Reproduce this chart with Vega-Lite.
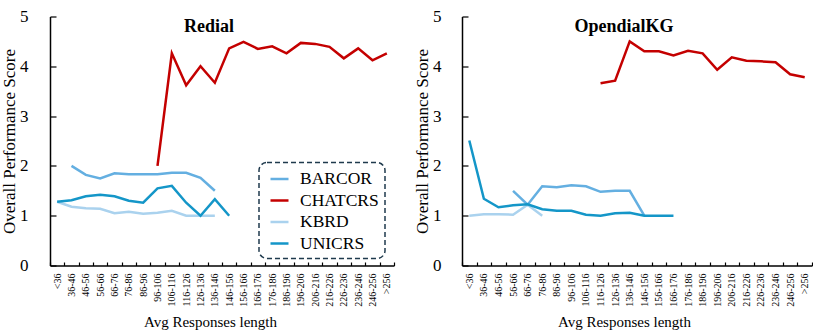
{
  "$schema": "https://vega.github.io/schema/vega-lite/v6.json",
  "padding": {"left": 0, "top": 7.5, "right": 0, "bottom": 0},
  "config": {
    "font": "Liberation Serif",
    "view": {"stroke": null},
    "axis": {"grid": false, "domainColor": "#000000", "tickColor": "#000000", "labelColor": "#000000", "titleColor": "#000000", "labelFont": "Liberation Serif", "titleFont": "Liberation Serif", "titleFontWeight": "normal"},
    "legend": {"strokeDash": [5, 3], "strokeWidth": 1.5, "labelFont": "Liberation Serif"},
    "line": {"strokeWidth": 2.5}
  },
  "spacing": 17,
  "resolve": {"legend": {"color": "independent"}},
  "datasets": {
    "redial": [
      {"len": "36-46", "model": "BARCOR", "score": 2.0},
      {"len": "46-56", "model": "BARCOR", "score": 1.82},
      {"len": "56-66", "model": "BARCOR", "score": 1.75},
      {"len": "66-76", "model": "BARCOR", "score": 1.85},
      {"len": "76-86", "model": "BARCOR", "score": 1.83},
      {"len": "86-96", "model": "BARCOR", "score": 1.83},
      {"len": "96-106", "model": "BARCOR", "score": 1.83},
      {"len": "106-116", "model": "BARCOR", "score": 1.86},
      {"len": "116-126", "model": "BARCOR", "score": 1.86},
      {"len": "126-136", "model": "BARCOR", "score": 1.76},
      {"len": "136-146", "model": "BARCOR", "score": 1.5},
      {"len": "96-106", "model": "CHATCRS", "score": 2.0},
      {"len": "106-116", "model": "CHATCRS", "score": 4.26},
      {"len": "116-126", "model": "CHATCRS", "score": 3.62},
      {"len": "126-136", "model": "CHATCRS", "score": 4.0},
      {"len": "136-146", "model": "CHATCRS", "score": 3.67},
      {"len": "146-156", "model": "CHATCRS", "score": 4.36},
      {"len": "156-166", "model": "CHATCRS", "score": 4.49},
      {"len": "166-176", "model": "CHATCRS", "score": 4.35},
      {"len": "176-186", "model": "CHATCRS", "score": 4.4},
      {"len": "186-196", "model": "CHATCRS", "score": 4.26},
      {"len": "196-206", "model": "CHATCRS", "score": 4.47},
      {"len": "206-216", "model": "CHATCRS", "score": 4.45},
      {"len": "216-226", "model": "CHATCRS", "score": 4.39},
      {"len": "226-236", "model": "CHATCRS", "score": 4.16},
      {"len": "236-246", "model": "CHATCRS", "score": 4.36},
      {"len": "246-256", "model": "CHATCRS", "score": 4.12},
      {"len": ">256", "model": "CHATCRS", "score": 4.26},
      {"len": "<36", "model": "KBRD", "score": 1.28},
      {"len": "36-46", "model": "KBRD", "score": 1.18},
      {"len": "46-56", "model": "KBRD", "score": 1.15},
      {"len": "56-66", "model": "KBRD", "score": 1.14},
      {"len": "66-76", "model": "KBRD", "score": 1.05},
      {"len": "76-86", "model": "KBRD", "score": 1.08},
      {"len": "86-96", "model": "KBRD", "score": 1.04},
      {"len": "96-106", "model": "KBRD", "score": 1.06},
      {"len": "106-116", "model": "KBRD", "score": 1.1},
      {"len": "116-126", "model": "KBRD", "score": 1.0},
      {"len": "126-136", "model": "KBRD", "score": 1.0},
      {"len": "136-146", "model": "KBRD", "score": 1.0},
      {"len": "<36", "model": "UNICRS", "score": 1.28},
      {"len": "36-46", "model": "UNICRS", "score": 1.31},
      {"len": "46-56", "model": "UNICRS", "score": 1.39},
      {"len": "56-66", "model": "UNICRS", "score": 1.42},
      {"len": "66-76", "model": "UNICRS", "score": 1.39},
      {"len": "76-86", "model": "UNICRS", "score": 1.3},
      {"len": "86-96", "model": "UNICRS", "score": 1.26},
      {"len": "96-106", "model": "UNICRS", "score": 1.55},
      {"len": "106-116", "model": "UNICRS", "score": 1.6},
      {"len": "116-126", "model": "UNICRS", "score": 1.26},
      {"len": "126-136", "model": "UNICRS", "score": 1.0},
      {"len": "136-146", "model": "UNICRS", "score": 1.33},
      {"len": "146-156", "model": "UNICRS", "score": 1.0}
    ],
    "opendialkg": [
      {"len": "56-66", "model": "BARCOR", "score": 1.5},
      {"len": "66-76", "model": "BARCOR", "score": 1.22},
      {"len": "76-86", "model": "BARCOR", "score": 1.59},
      {"len": "86-96", "model": "BARCOR", "score": 1.57},
      {"len": "96-106", "model": "BARCOR", "score": 1.61},
      {"len": "106-116", "model": "BARCOR", "score": 1.59},
      {"len": "116-126", "model": "BARCOR", "score": 1.48},
      {"len": "126-136", "model": "BARCOR", "score": 1.5},
      {"len": "136-146", "model": "BARCOR", "score": 1.5},
      {"len": "146-156", "model": "BARCOR", "score": 1.0},
      {"len": "116-126", "model": "CHATCRS", "score": 3.66},
      {"len": "126-136", "model": "CHATCRS", "score": 3.71},
      {"len": "136-146", "model": "CHATCRS", "score": 4.5},
      {"len": "146-156", "model": "CHATCRS", "score": 4.3},
      {"len": "156-166", "model": "CHATCRS", "score": 4.3},
      {"len": "166-176", "model": "CHATCRS", "score": 4.22},
      {"len": "176-186", "model": "CHATCRS", "score": 4.31},
      {"len": "186-196", "model": "CHATCRS", "score": 4.26},
      {"len": "196-206", "model": "CHATCRS", "score": 3.93},
      {"len": "206-216", "model": "CHATCRS", "score": 4.18},
      {"len": "216-226", "model": "CHATCRS", "score": 4.11},
      {"len": "226-236", "model": "CHATCRS", "score": 4.1},
      {"len": "236-246", "model": "CHATCRS", "score": 4.08},
      {"len": "246-256", "model": "CHATCRS", "score": 3.84},
      {"len": ">256", "model": "CHATCRS", "score": 3.78},
      {"len": "<36", "model": "KBRD", "score": 1.0},
      {"len": "36-46", "model": "KBRD", "score": 1.03},
      {"len": "46-56", "model": "KBRD", "score": 1.03},
      {"len": "56-66", "model": "KBRD", "score": 1.02},
      {"len": "66-76", "model": "KBRD", "score": 1.22},
      {"len": "76-86", "model": "KBRD", "score": 1.0},
      {"len": "<36", "model": "UNICRS", "score": 2.51},
      {"len": "36-46", "model": "UNICRS", "score": 1.34},
      {"len": "46-56", "model": "UNICRS", "score": 1.17},
      {"len": "56-66", "model": "UNICRS", "score": 1.21},
      {"len": "66-76", "model": "UNICRS", "score": 1.23},
      {"len": "76-86", "model": "UNICRS", "score": 1.13},
      {"len": "86-96", "model": "UNICRS", "score": 1.1},
      {"len": "96-106", "model": "UNICRS", "score": 1.1},
      {"len": "106-116", "model": "UNICRS", "score": 1.02},
      {"len": "116-126", "model": "UNICRS", "score": 1.0},
      {"len": "126-136", "model": "UNICRS", "score": 1.05},
      {"len": "136-146", "model": "UNICRS", "score": 1.06},
      {"len": "146-156", "model": "UNICRS", "score": 1.0},
      {"len": "156-166", "model": "UNICRS", "score": 1.0},
      {"len": "166-176", "model": "UNICRS", "score": 1.0}
    ]
  },
  "hconcat": [
    {
      "width": 344,
      "height": 249,
      "data": {"name": "redial"},
      "title": {"text": "Redial", "font": "Liberation Serif", "fontSize": 18, "fontWeight": "bold", "color": "#000000", "anchor": "middle", "dx": -13, "offset": 0, "baseline": "alphabetic", "dy": 42.5},
      "mark": {"type": "line", "strokeWidth": 2.5},
      "encoding": {
        "x": {
          "field": "len", "type": "ordinal",
          "scale": {"type": "band", "paddingInner": 0, "paddingOuter": 0, "domain": ["<36","36-46","46-56","56-66","66-76","76-86","86-96","96-106","106-116","116-126","126-136","136-146","146-156","156-166","166-176","176-186","186-196","196-206","206-216","216-226","226-236","236-246","246-256",">256"]},
          "axis": {"title": "Avg Responses length", "titleFont": "Liberation Serif", "labelFont": "Liberation Serif", "titleFontSize": 15, "titleX": 160, "titleY": 60.5, "titleBaseline": "alphabetic", "labelAngle": -90, "labelAlign": "right", "labelBaseline": "middle", "labelFontSize": 10, "tickBand": "extent", "tickSize": -3.5, "labelPadding": 11, "domainWidth": 1.5, "tickWidth": 1.2}
        },
        "y": {
          "field": "score", "type": "quantitative",
          "scale": {"domain": [0, 5], "nice": false},
          "axis": {"title": "Overall Performance Score", "titleFont": "Liberation Serif", "labelFont": "Liberation Serif", "titleFontSize": 17, "titleX": -40.5, "titleBaseline": "middle", "labelFontSize": 17, "values": [0,1,2,3,4,5], "tickSize": -6, "labelPadding": 28, "domainWidth": 1.5, "tickWidth": 1.2}
        },
        "color": {
          "field": "model", "type": "nominal",
          "scale": {"domain": ["BARCOR","CHATCRS","KBRD","UNICRS"], "range": ["#64afe1","#c40000","#aad2ee","#1496c8"]},
          "legend": {"title": null, "orient": "none", "legendX": 209, "legendY": 146, "strokeColor": "#1f3a4d", "cornerRadius": 8, "padding": 6, "symbolOffset": 4, "symbolType": "stroke", "symbolSize": 324, "symbolStrokeWidth": 2.5, "labelFontSize": 17.5, "labelFont": "Liberation Serif", "labelColor": "#000000", "labelOffset": 10, "rowPadding": 2.5}
        }
      }
    },
    {
      "width": 350,
      "height": 249,
      "data": {"name": "opendialkg"},
      "title": {"text": "OpendialKG", "font": "Liberation Serif", "fontSize": 18, "fontWeight": "bold", "color": "#000000", "anchor": "middle", "dx": -13, "offset": 0, "baseline": "alphabetic", "dy": 42.5},
      "mark": {"type": "line", "strokeWidth": 2.5},
      "encoding": {
        "x": {
          "field": "len", "type": "ordinal",
          "scale": {"type": "band", "paddingInner": 0, "paddingOuter": 0, "domain": ["<36","36-46","46-56","56-66","66-76","76-86","86-96","96-106","106-116","116-126","126-136","136-146","146-156","156-166","166-176","176-186","186-196","196-206","206-216","216-226","226-236","236-246","246-256",">256"]},
          "axis": {"title": "Avg Responses length", "titleFont": "Liberation Serif", "labelFont": "Liberation Serif", "titleFontSize": 15, "titleX": 162, "titleY": 60.5, "titleBaseline": "alphabetic", "labelAngle": -90, "labelAlign": "right", "labelBaseline": "middle", "labelFontSize": 10, "tickBand": "extent", "tickSize": -3.5, "labelPadding": 11, "domainWidth": 1.5, "tickWidth": 1.2}
        },
        "y": {
          "field": "score", "type": "quantitative",
          "scale": {"domain": [0, 5], "nice": false},
          "axis": {"title": "Overall Performance Score", "titleFont": "Liberation Serif", "labelFont": "Liberation Serif", "titleFontSize": 17, "titleX": -40, "titleBaseline": "middle", "labelFontSize": 17, "values": [0,1,2,3,4,5], "tickSize": -6, "labelPadding": 27, "domainWidth": 1.5, "tickWidth": 1.2}
        },
        "color": {
          "field": "model", "type": "nominal",
          "scale": {"domain": ["BARCOR","CHATCRS","KBRD","UNICRS"], "range": ["#64afe1","#c40000","#aad2ee","#1496c8"]},
          "legend": null
        }
      }
    }
  ]
}
